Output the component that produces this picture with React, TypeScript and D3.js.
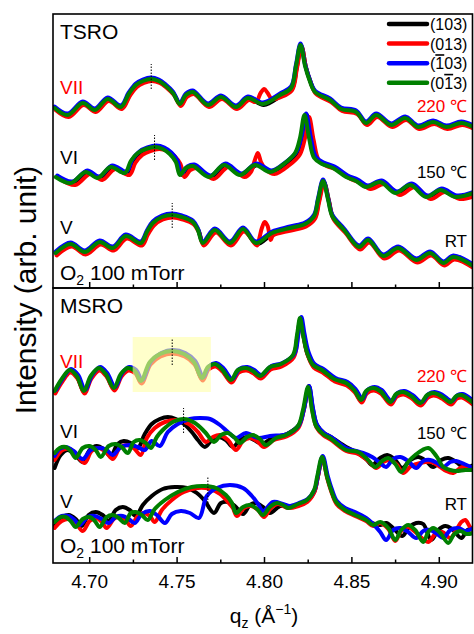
import React, { useEffect, useRef } from "react";
import * as d3 from "d3";

type Pt = [number, number];

// series: (103), (013), (-103), (0-13)
const seriesColors = ["#000000", "#ff0000", "#0000ff", "#008000"];
const legendLabels = ["(103)", "(013)", "(-103)", "(0-13)"];

const majorTicks = [4.7, 4.75, 4.8, 4.85, 4.9];
const minorTicks = [4.725, 4.775, 4.825, 4.875];
const qDomain: [number, number] = [4.679, 4.919];

// ---------- TSRO (green traces, others follow with small shifts) ----------
const tsroVII: Pt[] = [
  [4.6799, 182], [4.6874, 175], [4.696, 187], [4.7029, 180], [4.7103, 191], [4.7178, 183],
  [4.7223, 196], [4.7264, 205], [4.7304, 209], [4.735, 211], [4.7395, 209], [4.7435, 204],
  [4.7476, 197], [4.7516, 186], [4.755, 195], [4.759, 198], [4.7676, 185], [4.7751, 193],
  [4.7837, 183], [4.7905, 192], [4.7991, 186], [4.8089, 195], [4.8152, 202], [4.818, 224],
  [4.8206, 245], [4.8232, 224], [4.8255, 211], [4.8289, 198], [4.8375, 190], [4.8438, 181],
  [4.8524, 178], [4.8581, 167], [4.8639, 175], [4.8725, 165], [4.8805, 172], [4.8879, 163],
  [4.8965, 168], [4.904, 163], [4.9126, 167], [4.9195, 163],
];
const tsroVI: Pt[] = [
  [4.6805, 113], [4.6891, 107], [4.6977, 118], [4.7046, 112], [4.712, 123], [4.7201, 117],
  [4.7235, 129], [4.7275, 137], [4.7321, 141], [4.7372, 143], [4.7418, 141], [4.7458, 136],
  [4.7493, 128], [4.7516, 115], [4.755, 122], [4.759, 124], [4.7682, 113], [4.7768, 125],
  [4.786, 115], [4.7945, 125], [4.8031, 118], [4.8117, 127], [4.8175, 137], [4.8203, 152],
  [4.8229, 175], [4.8255, 152], [4.8284, 132], [4.8329, 126], [4.8392, 122], [4.8467, 113],
  [4.8524, 109], [4.8581, 103], [4.8662, 108], [4.8748, 97], [4.8834, 105], [4.8925, 93],
  [4.9006, 100], [4.9091, 93], [4.9195, 97],
];
const tsroV: Pt[] = [
  [4.6805, 37], [4.6891, 46], [4.6971, 38], [4.7057, 48], [4.7132, 42], [4.7206, 54],
  [4.7292, 47], [4.7327, 58], [4.7361, 67], [4.7413, 73], [4.747, 75], [4.7527, 73],
  [4.759, 68], [4.7619, 60], [4.7647, 47], [4.7716, 60], [4.7802, 47], [4.7877, 61],
  [4.7951, 47], [4.8043, 57], [4.8146, 62], [4.8232, 66], [4.8284, 74], [4.8306, 90],
  [4.8335, 109], [4.8364, 90], [4.8387, 74], [4.8455, 60], [4.8541, 43], [4.8593, 50],
  [4.8679, 34], [4.8765, 42], [4.8868, 30], [4.8948, 37], [4.9023, 27], [4.908, 33],
  [4.9195, 24],
];
// [dq, dI] for black, red, blue, green
const tsroVIIShift = [[0.0005, -1], [0.0006, -2], [0, 1.5], [0, 0]];
const tsroVIShift = [[0.0013, 0], [0.0026, -2], [0.0009, 1.5], [0, 0]];
const tsroVShift = [[0.0005, -1], [0.0006, -2.5], [0, 1.5], [0, 0]];
// extra red reflection near 4.80
const tsroVIIRed: Pt[] = [[4.7951, 188], [4.7978, 197], [4.7998, 201], [4.8018, 197], [4.8043, 191]];
const tsroVIRed: Pt[] = [[4.7922, 118], [4.7945, 130], [4.7962, 137], [4.798, 128], [4.8005, 121]];
const tsroVRed: Pt[] = [[4.7968, 50], [4.7985, 62], [4.8001, 68], [4.8018, 64], [4.8035, 50]];

// ---------- MSRO ----------
const msroVII: Pt[] = [
  [4.6799, 172], [4.684, 184], [4.6885, 193], [4.6926, 187], [4.6966, 172], [4.7006, 187],
  [4.7052, 195], [4.7092, 189], [4.7138, 175], [4.7178, 189], [4.7218, 195], [4.7258, 192],
  [4.7292, 182], [4.7344, 201], [4.7401, 209], [4.747, 212], [4.7539, 209], [4.7596, 201],
  [4.7642, 185], [4.7676, 196], [4.7716, 199], [4.7756, 194], [4.7808, 183], [4.7848, 193],
  [4.7894, 195], [4.7934, 192], [4.7974, 187], [4.8031, 196], [4.8094, 199], [4.8163, 208],
  [4.8186, 228], [4.8203, 245], [4.8221, 228], [4.8244, 210], [4.8278, 198], [4.8329, 193],
  [4.8398, 184], [4.8467, 180], [4.8513, 173], [4.8553, 163], [4.8581, 172], [4.8622, 175],
  [4.8662, 172], [4.8719, 161], [4.8753, 169], [4.8793, 171], [4.8839, 167], [4.8891, 160],
  [4.8931, 168], [4.8965, 170], [4.9011, 167], [4.9063, 161], [4.9097, 167], [4.9126, 168],
  [4.9195, 160],
];
const msroVIIShift = [[0.0002, -1], [0.0004, -2.5], [0.0008, 1], [0, 0]];

const msroVIGreen: Pt[] = [
  [4.6799, 110], [4.6828, 115], [4.6862, 116], [4.6891, 112], [4.692, 105], [4.696, 115],
  [4.7, 117], [4.7034, 113], [4.7063, 106], [4.7109, 117], [4.7149, 119], [4.7183, 116],
  [4.7218, 110], [4.7252, 121], [4.7287, 123], [4.7321, 120], [4.735, 115], [4.7384, 126],
  [4.7418, 133], [4.7476, 141], [4.7539, 144], [4.7602, 140], [4.7659, 131], [4.7711, 121],
  [4.7751, 128], [4.7791, 130], [4.7825, 126], [4.786, 120], [4.79, 126], [4.7934, 128],
  [4.7974, 124], [4.8008, 118], [4.8066, 125], [4.8123, 128], [4.8192, 137], [4.822, 153],
  [4.8249, 176], [4.8272, 153], [4.8295, 137], [4.8335, 129], [4.8375, 125], [4.8467, 113],
  [4.8536, 111], [4.8593, 103], [4.8633, 96], [4.8673, 102], [4.8708, 105], [4.8748, 99],
  [4.8782, 91], [4.8822, 101], [4.8862, 108], [4.8937, 115], [4.8983, 107], [4.9023, 96],
  [4.9063, 93], [4.9097, 92], [4.9149, 93], [4.9195, 93],
];
const msroVILeft: Pt[][] = [
  [
    [4.6799, 95], [4.6834, 108], [4.6874, 113], [4.6914, 109], [4.696, 101], [4.7, 113],
    [4.704, 117], [4.708, 114], [4.712, 107], [4.716, 119], [4.7195, 122], [4.7235, 120],
    [4.7275, 115], [4.7315, 129], [4.7355, 139], [4.7401, 144], [4.7447, 146], [4.7493, 144],
    [4.7539, 139], [4.7584, 131], [4.7619, 123], [4.7659, 116], [4.7699, 123], [4.7739, 126],
    [4.7779, 123], [4.7819, 116], [4.786, 123], [4.79, 126], [4.794, 123], [4.7986, 119],
    [4.8043, 125],
  ],
  [
    [4.6799, 103], [4.6845, 113], [4.6885, 114], [4.6925, 108], [4.6971, 100], [4.7011, 112],
    [4.7052, 115], [4.7092, 111], [4.7132, 104], [4.7172, 115], [4.7212, 118], [4.7252, 115],
    [4.7292, 108], [4.7327, 125], [4.7372, 135], [4.743, 141], [4.7504, 143], [4.7567, 139],
    [4.7619, 131], [4.7665, 121], [4.7705, 126], [4.7745, 128], [4.7791, 123], [4.7837, 113],
    [4.7877, 122], [4.7917, 125], [4.7957, 122], [4.7997, 116], [4.8054, 123],
  ],
  [
    [4.6799, 107], [4.6828, 114], [4.6862, 116], [4.6908, 112], [4.696, 104], [4.7006, 113],
    [4.7057, 115], [4.7097, 113], [4.7132, 108], [4.7178, 116], [4.7229, 118], [4.7275, 116],
    [4.7315, 113], [4.7355, 122], [4.7401, 117], [4.7447, 131], [4.7504, 139], [4.7573, 144],
    [4.763, 145], [4.7688, 144], [4.7745, 138], [4.7791, 131], [4.7837, 125], [4.7894, 130],
    [4.7963, 125], [4.8032, 127],
  ],
];
const msroVIRight: Pt[][] = [
  [
    [4.8467, 116], [4.8524, 111], [4.8581, 104], [4.8616, 98], [4.8662, 105], [4.8702, 108],
    [4.8748, 103], [4.8788, 95], [4.8834, 103], [4.8879, 106], [4.8925, 102], [4.8965, 96],
    [4.9011, 103], [4.9051, 105], [4.9097, 101], [4.9143, 95], [4.9195, 98],
  ],
  [
    [4.8467, 112], [4.8536, 109], [4.8593, 102], [4.8639, 95], [4.8679, 101], [4.8719, 103],
    [4.8759, 98], [4.8793, 90], [4.8839, 97], [4.8891, 100], [4.8954, 101], [4.9006, 96],
    [4.904, 92], [4.908, 90], [4.912, 95], [4.9155, 97], [4.9195, 94],
  ],
  [
    [4.8467, 115], [4.8524, 112], [4.8564, 110], [4.8616, 106], [4.8662, 100], [4.8696, 96],
    [4.8736, 104], [4.8776, 106], [4.8822, 102], [4.8868, 95], [4.8908, 102], [4.8948, 103],
    [4.8988, 100], [4.9023, 96], [4.9063, 101], [4.9097, 102], [4.9143, 99], [4.9195, 95],
  ],
];
const msroVIMid = [4.809, 4.84];
const msroVIMidShift = [[0.0005, 1], [0.0003, -1.5], [0.0006, 1]];

const msroVGreen: Pt[] = [
  [4.6799, 41], [4.6834, 46], [4.6862, 46], [4.6891, 42], [4.692, 36], [4.696, 44],
  [4.7, 46], [4.7029, 42], [4.7057, 36], [4.7097, 46], [4.7132, 48], [4.7166, 45],
  [4.7201, 40], [4.7235, 50], [4.7264, 51], [4.7298, 48], [4.7332, 43], [4.7372, 54],
  [4.743, 63], [4.7504, 71], [4.7584, 76], [4.7659, 77], [4.7722, 75], [4.7779, 68],
  [4.7814, 60], [4.7837, 50], [4.7877, 56], [4.7917, 58], [4.7957, 54], [4.7991, 48],
  [4.8031, 56], [4.8071, 60], [4.8106, 58], [4.8135, 55], [4.8192, 59], [4.8243, 63],
  [4.8284, 73], [4.8301, 86], [4.8329, 106], [4.8358, 86], [4.8381, 73], [4.841, 61],
  [4.8461, 53], [4.8518, 48], [4.8581, 43], [4.8622, 38], [4.8662, 41], [4.8708, 35],
  [4.8748, 23], [4.8782, 33], [4.8822, 38], [4.8862, 33], [4.8908, 21], [4.8937, 31],
  [4.8965, 35], [4.9006, 30], [4.9051, 20], [4.9086, 29], [4.912, 32], [4.9155, 29],
  [4.9195, 30],
];
const msroVLeft: Pt[][] = [
  [
    [4.6799, 37], [4.684, 45], [4.688, 48], [4.692, 44], [4.6954, 37], [4.6994, 48],
    [4.7034, 51], [4.7074, 48], [4.7109, 42], [4.7149, 53], [4.7189, 56], [4.7229, 53],
    [4.7264, 47], [4.7304, 58], [4.7355, 67], [4.7418, 74], [4.7487, 76], [4.7556, 75],
    [4.7613, 70], [4.7659, 62], [4.7711, 50], [4.7751, 60], [4.7791, 61], [4.7831, 57],
    [4.7877, 49], [4.7917, 58], [4.7951, 60], [4.7991, 56], [4.8031, 50], [4.8089, 57],
    [4.814, 57],
  ],
  [
    [4.6799, 35], [4.684, 42], [4.688, 44], [4.692, 40], [4.696, 32], [4.7, 42],
    [4.704, 45], [4.7069, 41], [4.7097, 35], [4.7138, 44], [4.7172, 47], [4.7206, 43],
    [4.7235, 37], [4.7275, 47], [4.731, 50], [4.7344, 47], [4.7372, 41], [4.7413, 53],
    [4.747, 63], [4.7539, 71], [4.7619, 75], [4.7688, 74], [4.7745, 69], [4.7791, 61],
    [4.7819, 55], [4.7842, 47], [4.7883, 55], [4.7923, 57], [4.7963, 53], [4.7997, 46],
    [4.8037, 55], [4.8077, 59], [4.8135, 55],
  ],
  [
    [4.6799, 42], [4.684, 47], [4.688, 47], [4.6914, 43], [4.6943, 38], [4.6989, 46],
    [4.7029, 47], [4.7069, 44], [4.7109, 40], [4.7149, 46], [4.7189, 47], [4.7223, 44],
    [4.7258, 40], [4.7298, 49], [4.7344, 52], [4.7384, 48], [4.743, 40], [4.747, 49],
    [4.7521, 52], [4.7573, 50], [4.7625, 45], [4.767, 67], [4.7728, 75], [4.7802, 78],
    [4.7877, 75], [4.7928, 67], [4.7963, 59], [4.7991, 52], [4.8049, 61], [4.8106, 59],
    [4.8146, 57],
  ],
];
const msroVRight: Pt[][] = [
  [
    [4.8461, 54], [4.8518, 49], [4.8576, 45], [4.8616, 40], [4.8662, 38], [4.8696, 40],
    [4.8736, 35], [4.8788, 27], [4.8828, 36], [4.8868, 40], [4.8908, 39], [4.8954, 23],
    [4.8994, 33], [4.9034, 37], [4.9074, 34], [4.9126, 25], [4.916, 33], [4.9195, 35],
  ],
  [
    [4.8461, 52], [4.8518, 47], [4.8581, 42], [4.8622, 37], [4.8662, 40], [4.8708, 34],
    [4.8748, 22], [4.8782, 32], [4.8822, 36], [4.8862, 31], [4.8937, 21], [4.8977, 29],
    [4.9017, 31], [4.9063, 25], [4.9097, 33], [4.9126, 41], [4.9149, 43], [4.9172, 37],
    [4.9195, 31],
  ],
  [
    [4.8461, 55], [4.8518, 51], [4.8581, 45], [4.8627, 38], [4.8662, 31], [4.8696, 23],
    [4.8736, 33], [4.8776, 35], [4.8822, 31], [4.8868, 25], [4.8908, 32], [4.8948, 33],
    [4.8988, 29], [4.9023, 25], [4.9063, 33], [4.9109, 35], [4.9149, 32], [4.9195, 35],
  ],
];
const msroVMid = [4.815, 4.842];
const msroVMidShift = [[0.0003, -1], [0.0002, -2], [0.0004, 1]];

// film peak positions (dotted markers): q, [I from, I to]
const tsroMarkers: [number, number, number][] = [[4.7352, 201, 226], [4.7371, 130, 155], [4.7472, 62, 87]];
const msroMarkers: [number, number, number][] = [[4.7472, 198, 225], [4.7537, 130, 155], [4.7676, 60, 86]];
const highlightQ = [4.7246, 4.7693];
const highlightI = [171, 226];

const shift = (pts: Pt[], d: number[]): Pt[] => pts.map(([q, v]) => [q + d[0], v + d[1]] as Pt);
const patch = (pts: Pt[], p: Pt[] | null): Pt[] => {
  if (!p) return pts;
  const lo = p[0][0];
  const hi = p[p.length - 1][0];
  return [...pts.filter(([q]) => q < lo || q > hi), ...p].sort((a, b) => a[0] - b[0]);
};
const between = (pts: Pt[], r: number[]) => pts.filter(([q]) => q >= r[0] && q <= r[1]);

const shifted = (base: Pt[], shifts: number[][], red: Pt[] | null) =>
  shifts.map((s, i) => patch(shift(base, s), i === 1 ? red : null));
const assembled = (green: Pt[], left: Pt[][], right: Pt[][], mid: number[], ms: number[][]) => [
  ...left.map((l, i) => [...l, ...shift(between(green, mid), ms[i]), ...right[i]]),
  green,
];

const tsroCurves = [
  shifted(tsroVII, tsroVIIShift, tsroVIIRed),
  shifted(tsroVI, tsroVIShift, tsroVIRed),
  shifted(tsroV, tsroVShift, tsroVRed),
];
const msroCurves = [
  shifted(msroVII, msroVIIShift, null),
  assembled(msroVIGreen, msroVILeft, msroVIRight, msroVIMid, msroVIMidShift),
  assembled(msroVGreen, msroVLeft, msroVRight, msroVMid, msroVMidShift),
];

const FONT = "'Liberation Sans', Arial, Helvetica, sans-serif";

export default function App() {
  const svgRef = useRef<SVGSVGElement>(null);

  useEffect(() => {
    const svg = d3.select(svgRef.current);
    svg.selectAll("*").remove();
    svg.attr("font-family", FONT);

    const left = 53;
    const right = 472.5;
    const x = d3.scaleLinear().domain(qDomain).range([left, right]);

    const panels = [
      { name: "TSRO", y0: 14, y1: 288, y: d3.scaleLinear().domain([0, 276]).range([290, 14]), curves: tsroCurves, markers: tsroMarkers, base: 0 },
      { name: "MSRO", y0: 288, y1: 563, y: d3.scaleLinear().domain([0, 273]).range([563, 290]), curves: msroCurves, markers: msroMarkers, base: 274 },
    ];

    const defs = svg.append("defs");

    panels.forEach((p, pi) => {
      defs
        .append("clipPath")
        .attr("id", `clip${pi}`)
        .append("rect")
        .attr("x", left)
        .attr("y", p.y0)
        .attr("width", right - left)
        .attr("height", p.y1 - p.y0);

      const line = d3
        .line<Pt>()
        .x((d) => x(d[0]))
        .y((d) => p.y(d[1]))
        .curve(d3.curveCatmullRom.alpha(0.5));

      const g = svg.append("g").attr("clip-path", `url(#clip${pi})`);
      p.curves.forEach((row) => {
        row.forEach((pts, si) => {
          g.append("path")
            .datum(pts)
            .attr("fill", "none")
            .attr("stroke", seriesColors[si])
            .attr("stroke-width", 4)
            .attr("stroke-linejoin", "round")
            .attr("stroke-linecap", "round")
            .attr("d", line);
        });
      });

      if (pi === 1) {
        g.append("rect")
          .attr("x", x(highlightQ[0]))
          .attr("y", p.y(highlightI[1]))
          .attr("width", x(highlightQ[1]) - x(highlightQ[0]))
          .attr("height", p.y(highlightI[0]) - p.y(highlightI[1]))
          .attr("fill", "#ffffa8")
          .attr("opacity", 0.6);
      }

      p.markers.forEach(([q, a, b]) => {
        g.append("line")
          .attr("x1", x(q))
          .attr("x2", x(q))
          .attr("y1", p.y(a))
          .attr("y2", p.y(b))
          .attr("stroke", "#000")
          .attr("stroke-width", 1)
          .attr("stroke-dasharray", "1.5,1.5");
      });

      // inward ticks along the panel bottom
      majorTicks.forEach((t) => {
        svg.append("line").attr("x1", x(t)).attr("x2", x(t)).attr("y1", p.y1).attr("y2", p.y1 - 6)
          .attr("stroke", "#000").attr("stroke-width", 1.5);
      });
      minorTicks.forEach((t) => {
        svg.append("line").attr("x1", x(t)).attr("x2", x(t)).attr("y1", p.y1).attr("y2", p.y1 - 3.5)
          .attr("stroke", "#000").attr("stroke-width", 1.5);
      });

      svg.append("rect")
        .attr("x", left)
        .attr("y", p.y0)
        .attr("width", right - left)
        .attr("height", p.y1 - p.y0)
        .attr("fill", "none")
        .attr("stroke", "#000")
        .attr("stroke-width", 1.6);

      // panel texts
      const b = p.base;
      const txt = (tx: number, ty: number, s: string, size: number, color = "#000", anchor = "start") =>
        svg.append("text").attr("x", tx).attr("y", ty + b).attr("font-size", size)
          .attr("fill", color).attr("text-anchor", anchor).text(s);

      txt(60, 39, p.name, 21);
      txt(60, 94, "VII", 19, "#ff0000");
      txt(60, 164, "VI", 19);
      txt(60, 234, "V", 19);
      txt(467, pi === 0 ? 112 : 108, "220 \u2103", 17, "#ff0000", "end");
      txt(467, pi === 0 ? 178 : 165, "150 \u2103", 17, "#000", "end");
      txt(467, pi === 0 ? 247 : 236, "RT", 17, "#000", "end");

      const o2 = svg.append("text").attr("x", 60).attr("y", 280 + (pi === 0 ? 0 : b - 1)).attr("font-size", 21);
      o2.append("tspan").text("O");
      o2.append("tspan").attr("font-size", 14).attr("dy", 5).text("2");
      o2.append("tspan").attr("dy", -5).text(" 100 mTorr");
    });

    // x tick labels
    majorTicks.forEach((t) => {
      svg.append("text")
        .attr("x", x(t))
        .attr("y", 588)
        .attr("text-anchor", "middle")
        .attr("font-size", 19)
        .text(t.toFixed(2));
    });

    // axis titles
    const xl = svg.append("text").attr("x", 264).attr("y", 623).attr("text-anchor", "middle").attr("font-size", 21);
    xl.append("tspan").text("q");
    xl.append("tspan").attr("font-size", 14).attr("dy", 5).text("z");
    xl.append("tspan").attr("dy", -5).text(" (\u00c5");
    xl.append("tspan").attr("font-size", 14).attr("dy", -9).text("\u22121");
    xl.append("tspan").attr("dy", 9).text(")");

    svg.append("text")
      .attr("transform", "translate(36,290) rotate(-90)")
      .attr("text-anchor", "middle")
      .attr("font-size", 30)
      .text("Intensity (arb. unit)");

    // legend
    legendLabels.forEach((lab, i) => {
      const ly = 24 + i * 19.6;
      svg.append("line").attr("x1", 389).attr("x2", 427).attr("y1", ly).attr("y2", ly)
        .attr("stroke", seriesColors[i]).attr("stroke-width", 4.5).attr("stroke-linecap", "round");
      const t = svg.append("text").attr("x", 430).attr("y", ly + 6).attr("font-size", 16);
      lab.split(/(-\d)/).filter((s) => s.length).forEach((part) => {
        if (part.startsWith("-")) {
          t.append("tspan").attr("text-decoration", "overline").text(part.slice(1));
        } else {
          t.append("tspan").text(part);
        }
      });
    });
  }, []);

  return (
    <svg
      ref={svgRef}
      width={474}
      height={634}
      style={{ position: "absolute", left: 0, top: 0, background: "#fff" }}
    />
  );
}
